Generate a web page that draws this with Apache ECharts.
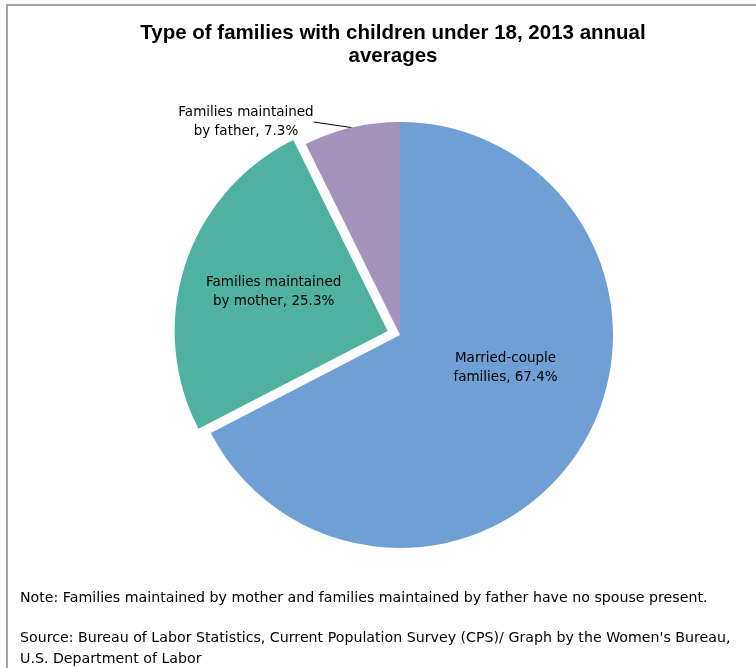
<!DOCTYPE html>
<html>
<head>
<meta charset="utf-8">
<script src="https://cdn.jsdelivr.net/npm/echarts@6/dist/echarts.min.js"></script>
<style>
  html, body { margin: 0; padding: 0; background: #fff; }
  #pie-data { width: 756px; height: 668px; }
</style>
</head>
<body>
<div id="pie-data"></div>
<script>
let categories = ['Married-couple\nfamilies', 'Families maintained\nby mother', 'Families maintained\nby father'];
let shares = [67.4, 25.3, 7.3];
let colors = ['#6F9FD5', '#4FB19F', '#A593BE'];

let myChart = echarts.init(document.getElementById('pie-data'));
let txtFont = '"DejaVu Sans", Verdana, sans-serif';

let pieData = categories.map(function (name, i) {
  return { name: name, value: shares[i] };
});
// married: inside, nudged toward where the original puts it
pieData[0].label = { position: 'inside', offset: [12, -24] };
// mother: exploded wedge, label inside
pieData[1].selected = true;
pieData[1].label = { position: 'inside' };
// father: outside with a leader line
pieData[2].label = { position: 'outside' };
pieData[2].labelLine = { show: true, length: 10, length2: 0, lineStyle: { color: '#000', width: 1 } };

myChart.setOption({
  color: colors,
  animation: false,
  title: {
    text: 'Type of families with children under 18, 2013 annual\naverages',
    left: 388,
    top: 17,
    textAlign: 'center',
    textStyle: {
      fontFamily: '"Liberation Sans", Arial, sans-serif',
      fontWeight: 'bold',
      fontSize: 20.5,
      lineHeight: 23,
      color: '#000'
    }
  },
  graphic: [
    {
      type: 'rect',
      shape: { x: 7, y: 5, width: 800, height: 720 },
      style: { fill: 'none', stroke: '#a6a6a6', lineWidth: 2 }
    },
    {
      type: 'text',
      left: 20,
      top: 591,
      style: {
        text: 'Note: Families maintained by mother and families maintained by father have no spouse present.',
        font: '14.2px ' + txtFont,
        fill: '#000'
      }
    },
    {
      type: 'text',
      left: 20,
      top: 628,
      style: {
        text: "Source: Bureau of Labor Statistics, Current Population Survey (CPS)/ Graph by the Women's Bureau,\nU.S. Department of Labor",
        font: '14.2px ' + txtFont,
        lineHeight: 21,
        fill: '#000'
      }
    }
  ],
  series: [
    {
      type: 'pie',
      center: [400, 335],
      radius: 213,
      startAngle: 90,
      clockwise: true,
      selectedMode: 'single',
      selectedOffset: 13,
      data: pieData,
      label: {
        fontFamily: txtFont,
        fontSize: 13.5,
        lineHeight: 19,
        color: '#000',
        align: 'center',
        formatter: function (p) {
          return p.name + ', ' + p.value.toFixed(1) + '%';
        }
      },
      labelLayout: function (params) {
        if (params.dataIndex === 1) {
          return { dx: -10, dy: -5 };
        }
        if (params.dataIndex === 2) {
          return { x: 246, y: 122, align: 'center', verticalAlign: 'middle' };
        }
      },
      emphasis: { disabled: true },
      itemStyle: { borderWidth: 0 }
    }
  ]
});
</script>
</body>
</html>
